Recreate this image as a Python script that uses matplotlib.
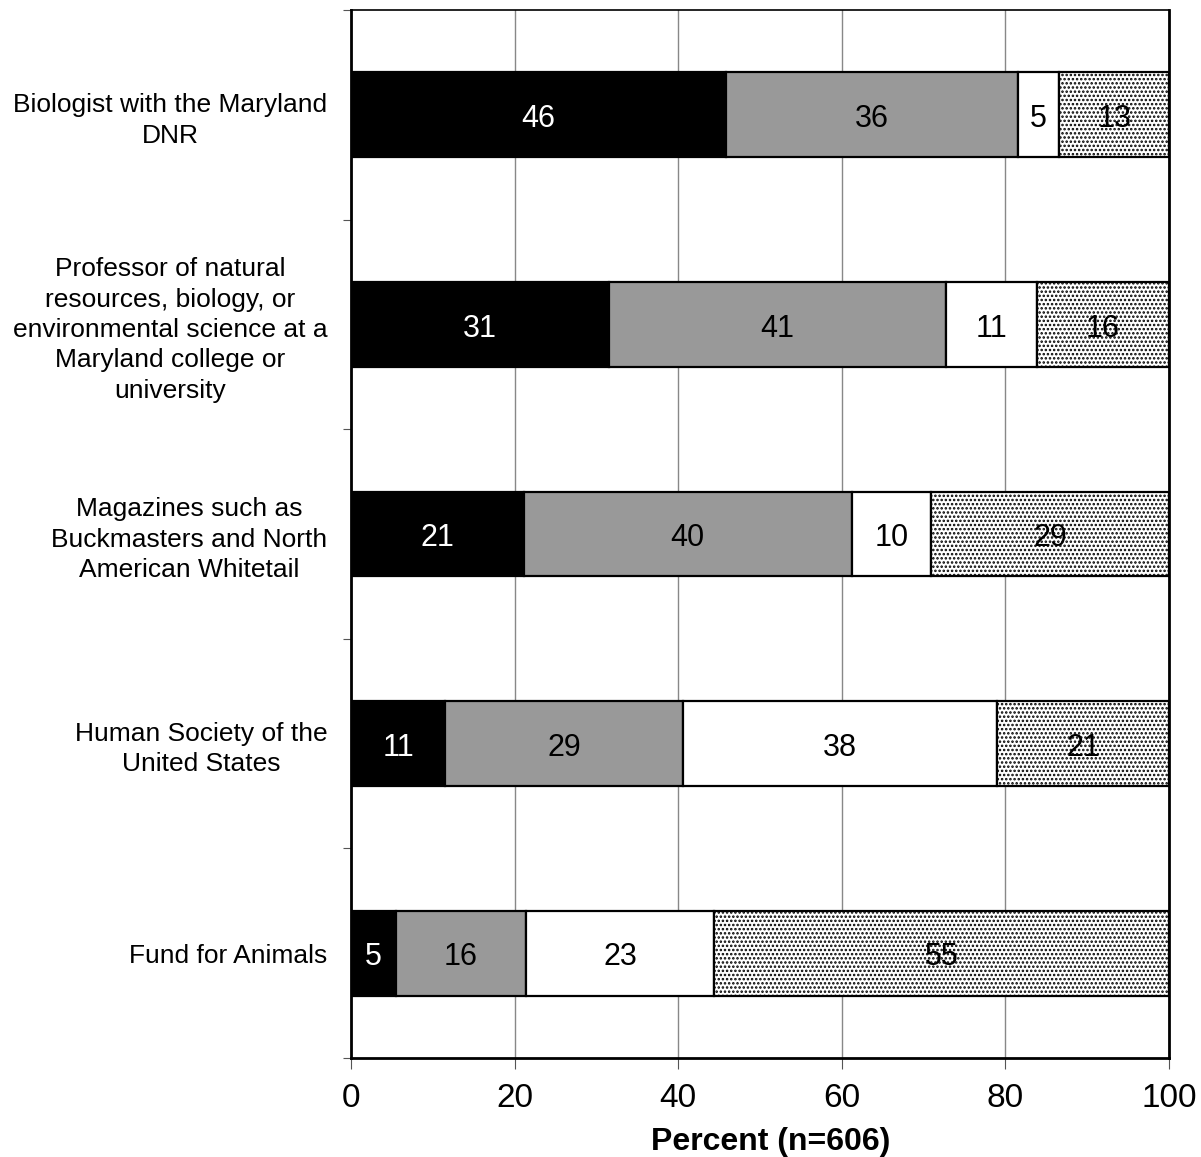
import numpy as np
import matplotlib
matplotlib.use("Agg")
import matplotlib.pyplot as plt

plt.rcParams['font.family'] = ['Liberation Sans', 'DejaVu Sans']
plt.rcParams['hatch.linewidth'] = 1.2
plt.rcParams['hatch.color'] = '#555555'

categories = [
    "Biologist with the Maryland\nDNR",
    "Professor of natural\nresources, biology, or\nenvironmental science at a\nMaryland college or\nuniversity",
    "Magazines such as\nBuckmasters and North\nAmerican Whitetail",
    "Human Society of the\nUnited States",
    "Fund for Animals",
]

# segment widths (percent)
seg1 = [45.8, 31.5, 21.1, 11.5, 5.5]
seg2 = [35.7, 41.2, 40.1, 29.1, 15.9]
seg3 = [5.1, 11.1, 9.7, 38.4, 23.0]
seg4 = [13.4, 16.2, 29.1, 21.0, 55.6]

# printed labels
lab1 = [46, 31, 21, 11, 5]
lab2 = [36, 41, 40, 29, 16]
lab3 = [5, 11, 10, 38, 23]
lab4 = [13, 16, 29, 21, 55]

fig = plt.figure(figsize=(12.01, 11.57), dpi=100)
ax = fig.add_axes([0.2923, 0.0856, 0.6811, 0.9058])

y = np.arange(len(categories))
h = 0.405
styles = [
    dict(color='black', hatch=None, txt='white'),
    dict(color='#999999', hatch=None, txt='black'),
    dict(color='white', hatch=None, txt='black'),
    dict(color='white', hatch='....', txt='black'),
]
left = np.zeros(len(categories))
for vals, labs, st in zip([seg1, seg2, seg3, seg4], [lab1, lab2, lab3, lab4], styles):
    vals = np.array(vals)
    ax.barh(y, vals, left=left, height=h, color=st['color'], edgecolor='black',
            linewidth=1.6, hatch=st['hatch'], zorder=3)
    for yi, l, v, t in zip(y, left, vals, labs):
        ax.text(l + v / 2, yi + 0.02, str(t), ha='center', va='center', fontsize=22,
                color=st['txt'], zorder=4)
    left += vals

ax.set_xlim(0, 100)
ax.set_ylim(len(categories) - 0.5, -0.5)
ax.set_xticks([0, 20, 40, 60, 80, 100])
ax.tick_params(axis='x', labelsize=24, length=8, width=0.8, color='#555555', pad=10)
ax.xaxis.grid(True, color='#888888', linewidth=1, zorder=0)
ax.set_axisbelow(True)

ax.set_yticks(np.arange(-0.5, len(categories)), minor=False)
ax.set_yticklabels([])
ax.tick_params(axis='y', which='major', length=6, width=0.8, color='#555555')
ax.set_yticks(y, categories, minor=True)
ax.tick_params(axis='y', which='minor', length=0, pad=17, labelsize=19)
for lbl in ax.get_yticklabels(minor=True):
    lbl.set_multialignment('center')
    lbl.set_linespacing(1.33)

ax.set_xlabel("Percent (n=606)", fontsize=23, fontweight='bold')
ax.xaxis.set_label_coords(0.513, -0.066)

for side in ['left', 'bottom', 'right']:
    ax.spines[side].set_linewidth(2)
ax.spines['top'].set_linewidth(1.2)

fig.savefig("out.png", dpi=100)
